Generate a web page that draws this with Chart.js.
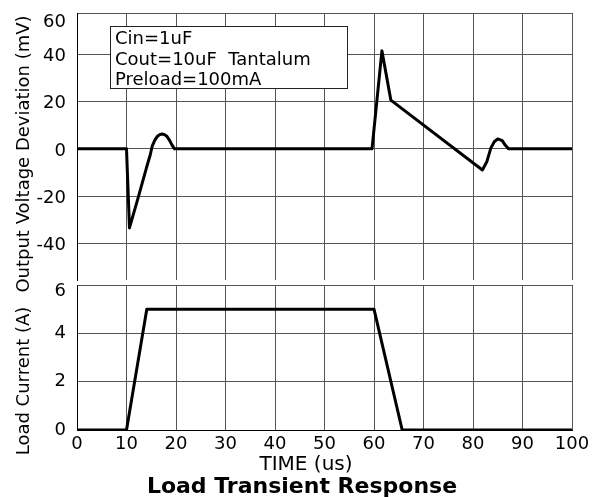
<!DOCTYPE html>
<html>
<head>
<meta charset="utf-8">
<script src="https://cdn.jsdelivr.net/npm/chart.js@4.4.1/dist/chart.umd.min.js"></script>
<style>
    html, body { margin: 0; padding: 0; background: #fff; }
    #wrap { position: relative; width: 594px; height: 497px; }
    #wrap canvas { position: absolute; left: 0; top: 0; }
</style>
</head>
<body>
<div id="wrap">
    <canvas id="voltChart" width="594" height="497"></canvas>
    <canvas id="currChart" width="594" height="497"></canvas>
</div>
<script>
// Data
const voltTime = [0, 10, 10.6, 12.3, 14.1, 14.8, 15.2, 15.7, 16.2, 16.7, 17.2, 17.7, 18.2, 18.7, 19.2, 19.7,
                  59.6, 61.6, 63.4, 81.9, 82.8, 83.6, 84.3, 85.0, 85.9, 86.5, 87.2, 100];
const voltMv   = [0, 0, -33.4, -21, -7.5, -2.5, 1.2, 3.6, 5.2, 6, 6.3, 6, 5.2, 3.6, 1.6, 0,
                  0, 41.4, 20.6, -8.9, -5.4, 0.3, 3, 4.2, 3.5, 1.6, 0, 0];

const currTime = [0, 10, 14.1, 60, 65.7, 100];
const currA    = [0, 0, 5, 5, 0, 0];

const timeTicks = [0, 10, 20, 30, 40, 50, 60, 70, 80, 90, 100];
const voltTicks = [-40, -20, 0, 20, 40];
const currTicks = [0, 2, 4];

const noteLines = ['Cin=1uF', 'Cout=10uF  Tantalum', 'Preload=100mA'];

// Scale limits (top label sits a bit inside the frame, like the reference)
const voltMin = -55.4, voltMax = 57.4, voltTopLabel = 54.5;
const currMin = 0, currMax = 6, currTopLabel = 5.72;

const GRID = '#555';
const FONT = "'DejaVu Sans', sans-serif";

Chart.defaults.font.family = FONT;
Chart.defaults.font.size = 18;
Chart.defaults.color = '#000';

const toPoints = (xs, ys) => xs.map((x, i) => ({ x: x, y: ys[i] }));

// keep chart areas exactly where the layout padding puts them
const fixY = s => { s.width = 77; s.paddingTop = 0; s.paddingBottom = 0; };

// Note box on the upper chart
const notePlugin = {
    id: 'noteBox',
    afterDraw(chart) {
        const ctx = chart.ctx;
        ctx.save();
        ctx.fillStyle = '#fff';
        ctx.strokeStyle = '#222';
        ctx.lineWidth = 1;
        ctx.fillRect(110, 26, 237, 62);
        ctx.strokeRect(110.5, 26.5, 237, 62);
        ctx.fillStyle = '#000';
        ctx.font = '18px ' + FONT;
        ctx.textAlign = 'left';
        ctx.textBaseline = 'alphabetic';
        noteLines.forEach((t, i) => ctx.fillText(t, 115, 44 + i * 20.5));
        ctx.restore();
    }
};

// Axis titles and chart title, placed like the reference
const titlePlugin = {
    id: 'titles',
    afterDraw(chart) {
        const ctx = chart.ctx;
        ctx.save();
        ctx.fillStyle = '#000';
        ctx.textAlign = 'center';
        ctx.textBaseline = 'alphabetic';
        ctx.font = '18px ' + FONT;

        ctx.save();
        ctx.translate(28.5, 154);
        ctx.rotate(-Math.PI / 2);
        ctx.fillText('Output Voltage Deviation (mV)', 0, 0);
        ctx.restore();

        ctx.save();
        ctx.translate(28.5, 381);
        ctx.rotate(-Math.PI / 2);
        ctx.fillText('Load Current (A)', 0, 0);
        ctx.restore();

        ctx.font = '20px ' + FONT;
        ctx.fillText('TIME (us)', 306, 470);
        ctx.font = 'bold 22px ' + FONT;
        ctx.fillText('Load Transient Response', 302, 493);
        ctx.restore();
    }
};

const lineStyle = {
    borderColor: '#000',
    borderWidth: 3,
    pointRadius: 0,
    tension: 0,
    borderJoinStyle: 'round',
    fill: false
};

// Upper chart: output voltage deviation
new Chart(document.getElementById('voltChart'), {
    type: 'line',
    data: { datasets: [{ ...lineStyle, data: toPoints(voltTime, voltMv) }] },
    options: {
        responsive: false,
        animation: false,
        layout: { padding: { left: 0, right: 22, top: 13, bottom: 217 } },
        plugins: { legend: { display: false }, tooltip: { enabled: false } },
        scales: {
            x: {
                type: 'linear', min: 0, max: 100,
                afterBuildTicks: s => { s.ticks = timeTicks.map(v => ({ value: v })); },
                afterFit: s => { s.height = 0; s.paddingLeft = 0; s.paddingRight = 0; },
                ticks: { display: false },
                grid: { color: GRID, lineWidth: 1, drawTicks: false },
                border: { display: false }
            },
            y: {
                min: voltMin, max: voltMax,
                afterBuildTicks: s => {
                    s.ticks = voltTicks.concat([voltTopLabel, voltMax]).map(v => ({ value: v }));
                },
                afterFit: fixY,
                ticks: {
                    padding: 11,
                    labelOffset: 2,
                    callback: v => v === voltTopLabel ? '60' : (v === voltMax ? '' : v)
                },
                grid: {
                    drawTicks: false, lineWidth: 1,
                    color: c => c.tick && c.tick.value === voltTopLabel ? 'rgba(0,0,0,0)' : GRID
                },
                border: { display: true, color: '#000', width: 1 }
            }
        }
    },
    plugins: [notePlugin]
});

// Lower chart: load current
new Chart(document.getElementById('currChart'), {
    type: 'line',
    data: { datasets: [{ ...lineStyle, data: toPoints(currTime, currA) }] },
    options: {
        responsive: false,
        animation: false,
        layout: { padding: { left: 0, right: 22, top: 285, bottom: 37 } },
        plugins: { legend: { display: false }, tooltip: { enabled: false } },
        scales: {
            x: {
                type: 'linear', min: 0, max: 100,
                afterBuildTicks: s => { s.ticks = timeTicks.map(v => ({ value: v })); },
                afterFit: s => { s.height = 30; s.paddingLeft = 0; s.paddingRight = 0; },
                ticks: { padding: 4, autoSkip: false, maxRotation: 0 },
                grid: { color: GRID, lineWidth: 1, drawTicks: false },
                border: { display: true, color: '#000', width: 1 }
            },
            y: {
                min: currMin, max: currMax,
                afterBuildTicks: s => {
                    s.ticks = currTicks.concat([currTopLabel, currMax]).map(v => ({ value: v }));
                },
                afterFit: fixY,
                ticks: {
                    padding: 11,
                    callback: v => v === currTopLabel ? '6' : (v === currMax ? '' : v)
                },
                grid: {
                    drawTicks: false, lineWidth: 1,
                    color: c => c.tick && c.tick.value === currTopLabel ? 'rgba(0,0,0,0)' : GRID
                },
                border: { display: true, color: '#000', width: 1 }
            }
        }
    },
    plugins: [titlePlugin]
});
</script>
</body>
</html>
